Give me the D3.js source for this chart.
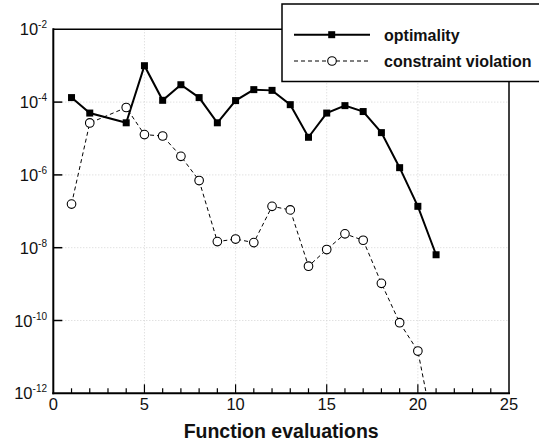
<!DOCTYPE html>
<html><head><meta charset="utf-8">
<script src="https://cdn.jsdelivr.net/npm/d3@7"></script>
<style>body{margin:0;background:#fff}svg{display:block;font-family:"Liberation Sans",Arial,sans-serif}</style>
</head><body><svg id="c" width="539" height="442"></svg>
<script>
const optEvals = [1,2,4,5,6,7,8,9,10,11,12,13,14,15,16,17,18,19,20,21];
const optimality = [1.33e-4,5.0e-5,2.7e-5,1.0e-3,1.12e-4,3.0e-4,1.33e-4,2.7e-5,1.1e-4,2.2e-4,2.1e-4,8.5e-5,1.08e-5,5.0e-5,8.0e-5,5.5e-5,1.45e-5,1.58e-6,1.37e-7,6.4e-9];
const cvEvals = [1,2,4,5,6,7,8,9,10,11,12,13,14,15,16,17,18,19,20,21];
const constraintViolation = [1.58e-7,2.67e-5,7.1e-5,1.28e-5,1.17e-5,3.24e-6,7.0e-7,1.47e-8,1.73e-8,1.38e-8,1.37e-7,1.09e-7,3.1e-9,8.9e-9,2.4e-8,1.6e-8,1.05e-9,8.7e-11,1.45e-11,4.3e-14];
const xTicks = [0,5,10,15,20,25];
const yTickExps = [-2,-4,-6,-8,-10,-12];
const seriesNames = ["optimality","constraint violation"];
const xTitle = "Function evaluations";

const svg = d3.select("#c");
const L=53.3, R=509, T=29.3, B=393.3;
const x = d3.scaleLinear().domain([0,25]).range([L,R]);
const y = d3.scaleLog().domain([1e-12,1e-2]).range([B,T]);

svg.append("defs").append("clipPath").attr("id","clip")
  .append("rect").attr("x",L).attr("y",T).attr("width",R-L).attr("height",B-T);

// grid
const g = svg.append("g");
g.selectAll(".gx").data(xTicks.filter(v=>v>0&&v<25)).join("line")
  .attr("x1",d=>x(d)).attr("x2",d=>x(d)).attr("y1",T).attr("y2",B)
  .attr("stroke","#d4d4d4").attr("stroke-width",1).attr("stroke-dasharray","1,2");
g.selectAll(".gy").data(yTickExps.filter(e=>e>-12&&e<-2)).join("line")
  .attr("y1",d=>y(Math.pow(10,d))).attr("y2",d=>y(Math.pow(10,d))).attr("x1",L).attr("x2",R)
  .attr("stroke","#d4d4d4").attr("stroke-width",1).attr("stroke-dasharray","1,2");

// series
const plot = svg.append("g").attr("clip-path","url(#clip)");
const optData = optEvals.map((e,i)=>[e,optimality[i]]);
const cvData = cvEvals.map((e,i)=>[e,constraintViolation[i]]);
const line = d3.line().x(d=>x(d[0])).y(d=>y(d[1]));
plot.append("path").datum(cvData).attr("d",line).attr("fill","none")
  .attr("stroke","#000").attr("stroke-width",1).attr("stroke-dasharray","4,3");
plot.append("path").datum(optData).attr("d",line).attr("fill","none")
  .attr("stroke","#000").attr("stroke-width",2);
plot.selectAll(".sq").data(optData).join("rect")
  .attr("x",d=>x(d[0])-3.5).attr("y",d=>y(d[1])-3.5).attr("width",7).attr("height",7).attr("fill","#000");
plot.selectAll(".ci").data(cvData).join("circle")
  .attr("cx",d=>x(d[0])).attr("cy",d=>y(d[1])).attr("r",4.3)
  .attr("fill","#fff").attr("stroke","#000").attr("stroke-width",1.1);

// frame
const fr = svg.append("g");
fr.append("line").attr("x1",L).attr("x2",R).attr("y1",T).attr("y2",T).attr("stroke","#000").attr("stroke-width",1.5);
fr.append("line").attr("x1",R).attr("x2",R).attr("y1",T).attr("y2",B).attr("stroke","#000").attr("stroke-width",1.5);
fr.append("line").attr("x1",L).attr("x2",L).attr("y1",T-1).attr("y2",B+1).attr("stroke","#000").attr("stroke-width",2);
fr.append("line").attr("x1",L-1).attr("x2",R+1).attr("y1",B).attr("y2",B).attr("stroke","#000").attr("stroke-width",2);

// x ticks
const minor = d3.range(1,25);
fr.selectAll(".xt").data(minor).join("line")
  .attr("x1",d=>x(d)).attr("x2",d=>x(d)).attr("y1",B).attr("y2",d=>B-(d%5===0?9:5))
  .attr("stroke","#000").attr("stroke-width",1.2);
fr.selectAll(".xl").data(xTicks).join("text")
  .attr("x",d=>x(d)).attr("y",409.5).attr("text-anchor","middle").attr("font-size",16.5)
  .attr("fill","#111").text(d=>d);
// y ticks
fr.selectAll(".yt").data(yTickExps.filter(e=>e>-12&&e<-2)).join("line")
  .attr("x1",L).attr("x2",L+9).attr("y1",d=>y(Math.pow(10,d))).attr("y2",d=>y(Math.pow(10,d)))
  .attr("stroke","#000").attr("stroke-width",1.5);
const yl = fr.selectAll(".yl").data(yTickExps).join("text")
  .attr("x",47).attr("y",d=>y(Math.pow(10,d))+6).attr("text-anchor","end")
  .attr("font-size",16.5).attr("fill","#111");
yl.append("tspan").text("10");
yl.append("tspan").attr("dy",-7).attr("font-size",10).text(d=>String(d));

// x title
svg.append("text").attr("x",(L+R)/2).attr("y",437.5).attr("text-anchor","middle")
  .attr("font-size",19.5).attr("font-weight","bold").attr("fill","#111").text(xTitle);

// legend
const lg = svg.append("g");
lg.append("rect").attr("x",282).attr("y",4).attr("width",270).attr("height",77.5)
  .attr("fill","#fff").attr("stroke","#000").attr("stroke-width",1.5);
lg.append("line").attr("x1",294).attr("x2",370).attr("y1",34.7).attr("y2",34.7).attr("stroke","#000").attr("stroke-width",2);
lg.append("rect").attr("x",328.2).attr("y",31.2).attr("width",7).attr("height",7).attr("fill","#000");
lg.append("line").attr("x1",294).attr("x2",370).attr("y1",61).attr("y2",61).attr("stroke","#000").attr("stroke-width",1).attr("stroke-dasharray","4,3");
lg.append("circle").attr("cx",332).attr("cy",61).attr("r",4.3).attr("fill","#fff").attr("stroke","#000").attr("stroke-width",1.1);
lg.selectAll(".lt").data(seriesNames).join("text")
  .attr("x",384).attr("y",(d,i)=>i===0?40.5:66.5).attr("font-size",16).attr("font-weight","bold")
  .attr("fill","#111").text(d=>d);
</script></body></html>
